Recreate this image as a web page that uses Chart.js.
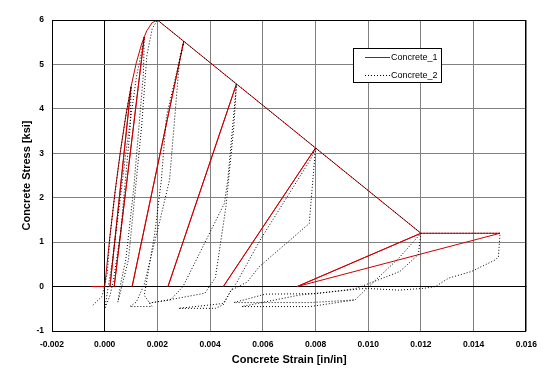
<!DOCTYPE html>
<html><head><meta charset="utf-8">
<script src="https://cdn.jsdelivr.net/npm/chart.js@4/dist/chart.umd.min.js"></script>
<style>html,body{margin:0;padding:0;background:#fff}</style>
</head><body>
<canvas id="c" width="546" height="374"></canvas>
<script>
const seriesNames = ['Concrete_1', 'Concrete_2'];
const xTickValues = [-0.002, 0.000, 0.002, 0.004, 0.006, 0.008, 0.010, 0.012, 0.014, 0.016];
const yTickValues = [-1, 0, 1, 2, 3, 4, 5, 6];

// Concrete_1 (red, solid)
const c1Strain = [-0.0005, 0, 0.0002, 0.0004, 0.0006, 0.0008, 0.001, 0.0002, 0.001, 0.0012, 0.0014, 0.0015, 0.00036, 0.0015, 0.0016, 0.0018, 0.002, 0.003, 0.00104, 0.003, 0.005, 0.0024, 0.005, 0.008, 0.0045, 0.008, 0.012, 0.0073, 0.012, 0.015, 0.0073];
const c1Stress = [0, 0, 1.14, 2.16, 3.06, 3.84, 4.5, 0, 4.5, 5.04, 5.46, 5.62, 0, 5.62, 5.76, 5.94, 6.0, 5.52, 0, 5.52, 4.56, 0, 4.56, 3.12, 0, 3.12, 1.2, 0, 1.2, 1.2, 0];

// Concrete_2 (black, dotted)
const c2Strain = [-0.00045, -0.0001, 0.0001, 0.0002, 0.0004, 0.0006, 0.0008, 0.001, 0.00097, 0.0006, 0.00032, 0.0002, 0.0, 0.0003, 0.0008, 0.0012, 0.0014, 0.0015, 0.00147, 0.0011, 0.0008, 0.0006, 0.0005, 0.0009, 0.0014, 0.0016, 0.0018, 0.002,
  0.003, 0.00284, 0.00246, 0.0021, 0.0015, 0.0012, 0.00095, 0.0018, 0.0015, 0.0019, 0.00215, 0.00234, 0.003,
  0.005, 0.00467, 0.00454, 0.00297, 0.0025, 0.0017, 0.0028, 0.0038, 0.0042, 0.0046, 0.0049, 0.005,
  0.008, 0.00776, 0.00587, 0.0054, 0.0048, 0.0045, 0.0042, 0.0028, 0.0036, 0.0045, 0.0048, 0.005, 0.0059, 0.0078, 0.008,
  0.012, 0.0119, 0.0112, 0.01003, 0.0095, 0.008, 0.0061, 0.0049, 0.0078, 0.0095, 0.0102, 0.01116, 0.012,
  0.015, 0.01494, 0.01482, 0.01392, 0.01305, 0.01255, 0.0121, 0.01116, 0.0099, 0.0074, 0.0052, 0.0078, 0.0095];
const c2Stress = [-0.42, -0.22, 0.3, 1.14, 2.16, 3.06, 3.84, 4.5, 3.6, 1.2, 0.1, -0.2, -0.5, 0.6, 3.0, 4.7, 5.3, 5.62, 4.8, 2.2, 0.6, 0.05, -0.35, 0.6, 3.6, 5.2, 5.8, 6.0,
  5.52, 5.1, 2.4, 1.5, 0.05, -0.35, -0.45, -0.45, -0.2, 1.2, 2.4, 3.82, 5.52,
  4.56, 2.4, 1.87, 0, -0.3, -0.37, -0.26, -0.15, 0.2, 1.8, 3.6, 4.56,
  3.12, 1.42, 0.45, 0.1, -0.08, -0.41, -0.49, -0.49, -0.44, -0.38, -0.08, 0.08, 1.05, 2.85, 3.12,
  1.2, 0.72, 0.34, 0.07, -0.05, -0.16, -0.17, -0.36, -0.36, -0.3, 0.1, 0.64, 1.2,
  1.2, 0.67, 0.6, 0.34, 0.19, 0, -0.04, -0.08, -0.04, -0.19, -0.45, -0.45, -0.3];

const toPts = (xs, ys) => xs.map((x, i) => ({x: x, y: ys[i]}));

const frame = {
  id: 'frame',
  afterDraw(chart) {
    const ctx = chart.ctx, a = chart.chartArea;
    ctx.save();
    ctx.strokeStyle = '#000'; ctx.lineWidth = 1;
    ctx.strokeRect(Math.round(a.left) + 0.5, Math.round(a.top) + 0.5, Math.round(a.right - a.left) - 1, Math.round(a.bottom - a.top));
    ctx.fillStyle = '#000';
    ctx.font = 'bold 11px "Liberation Sans", Arial, sans-serif';
    ctx.textAlign = 'center'; ctx.textBaseline = 'middle';
    ctx.fillText('Concrete Strain [in/in]', (a.left + a.right) / 2, 360);
    ctx.translate(27, (a.top + a.bottom) / 2);
    ctx.rotate(-Math.PI / 2);
    ctx.fillText('Concrete Stress [ksi]', 0, 0);
    ctx.restore();
    ctx.save();
    ctx.fillStyle = '#fff';
    ctx.fillRect(353, 48, 88, 34);
    ctx.strokeStyle = '#000'; ctx.lineWidth = 1;
    ctx.strokeRect(353.5, 48.5, 88, 34);
    ctx.font = '9px "Liberation Sans", Arial, sans-serif';
    ctx.textAlign = 'left'; ctx.textBaseline = 'middle';
    ctx.strokeStyle = '#cc0000';
    ctx.beginPath(); ctx.moveTo(365, 57.5); ctx.lineTo(390, 57.5); ctx.stroke();
    ctx.fillStyle = '#000';
    ctx.fillText(seriesNames[0], 391, 58);
    ctx.strokeStyle = '#000';
    ctx.setLineDash([1, 2]);
    ctx.beginPath(); ctx.moveTo(365, 75.5); ctx.lineTo(390, 75.5); ctx.stroke();
    ctx.setLineDash([]);
    ctx.fillText(seriesNames[1], 391, 76);
    ctx.restore();
  }
};

const gridColor = ctx => (ctx.tick && ctx.tick.value === 0) ? '#000000' : '#808080';

new Chart(document.getElementById('c'), {
  type: 'scatter',
  data: {
    datasets: [
      {label: seriesNames[0], data: toPts(c1Strain, c1Stress), showLine: true, borderColor: '#cc0000', borderWidth: 1, pointRadius: 0, order: 2},
      {label: seriesNames[1], data: toPts(c2Strain, c2Stress), showLine: true, borderColor: '#000000', borderWidth: 1, borderDash: [1, 2], pointRadius: 0, order: 1}
    ]
  },
  options: {
    responsive: false, animation: false,
    layout: {padding: {left: 0, right: 18, top: 20, bottom: 0}},
    plugins: {legend: {display: false}, tooltip: {enabled: false}},
    scales: {
      x: {
        type: 'linear', min: -0.002, max: 0.016,
        afterBuildTicks: s => { s.ticks = xTickValues.map(v => ({value: v})); },
        afterFit: s => { s.height = 43; },
        grid: {color: gridColor, lineWidth: 1, drawTicks: false},
        border: {display: false},
        ticks: {padding: 9, color: '#000', font: {family: '"Liberation Sans", Arial', size: 8.5, weight: 'bold'}, callback: v => Number(v).toFixed(3), maxRotation: 0, autoSkip: false}
      },
      y: {
        type: 'linear', min: -1, max: 6,
        afterBuildTicks: s => { s.ticks = yTickValues.map(v => ({value: v})); },
        afterFit: s => { s.width = 52; },
        grid: {color: gridColor, lineWidth: 1, drawTicks: false},
        border: {display: false},
        ticks: {padding: 8, color: '#000', font: {family: '"Liberation Sans", Arial', size: 8.5, weight: 'bold'}, callback: v => String(v)}
      }
    }
  },
  plugins: [frame]
});
</script>
</body></html>
